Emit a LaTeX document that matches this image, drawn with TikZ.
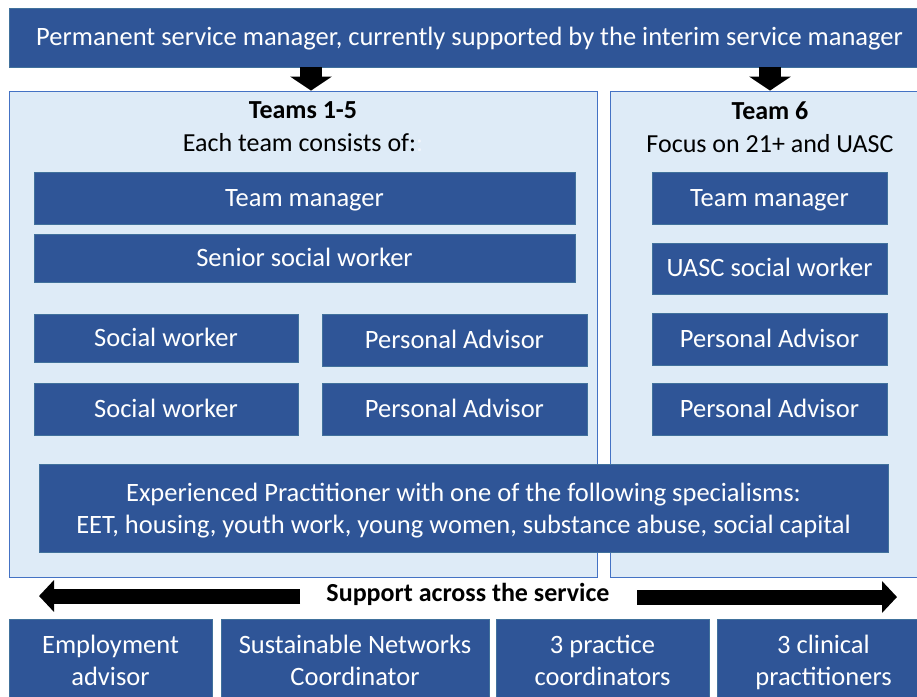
\documentclass[tikz,border=0pt]{standalone}
\usepackage{fontspec}
\setmainfont{Carlito}
\usetikzlibrary{arrows.meta}
\definecolor{darkblue}{HTML}{2F5597}
\definecolor{boxedge}{HTML}{41719C}
\definecolor{panelfill}{HTML}{DEEBF7}
\definecolor{paneledge}{HTML}{4472C4}
\definecolor{faint}{HTML}{F2F6FC}
% rectangle node given by its corners: style, name, x1, y1, x2, y2, text
\newcommand\blk[7]{\node[#1, minimum width={#5-#3}, minimum height={#6-#4}] (#2) at ({(#3+#5)/2},{(#4+#6)/2}) {#7};}
% two-line box: the box, then its text set a little below the centre
\newcommand\twoblk[7][3.5pt]{\blk{bluebox}{#2}{#3}{#4}{#5}{#6}{}
  \node[boxtext] (#2-text) at ([yshift=-#1]#2.center) {#7};}
\begin{document}
\begin{tikzpicture}[x=1pt,y=-1pt,
  boxtext/.style={text=white, font=\fontsize{26.5}{32}\selectfont,
    inner sep=0pt, align=center,
    execute at begin node={\rule{0pt}{24pt}},
    execute at end node={\rule[-2.5pt]{0pt}{2.5pt}}},
  bluebox/.style={boxtext, fill=darkblue, draw=boxedge, line width=0.8pt,
    execute at end node={\rule[-8pt]{0pt}{8pt}}},
  panel/.style={fill=panelfill, draw=paneledge, line width=0.8pt, inner sep=0pt},
  heading/.style={font=\fontsize{26}{33}\selectfont, align=center, inner sep=0pt},
  blockdown/.style={line width=22pt, -{Triangle[width=41pt,length=14pt]}},
  blockside/.style={line width=15pt, -{Triangle[width=31pt,length=15pt]}},
]
\useasboundingbox (0,0) rectangle (917,696);
\fill[white] (0,0) rectangle (917,696);

% manager bar
\blk{bluebox}{top}{9}{8}{930}{67}{Permanent service manager, currently supported by the interim service manager}

% team panels
\blk{panel}{left}{9}{91}{597}{577}{}
\blk{panel}{right}{610}{91}{930}{577}{}

% arrows from the manager bar into the panels
\draw[blockdown] (top.south -| 311,0) -- (left.north -| 311,0);
\draw[blockdown] (top.south -| 770,0) -- (right.north -| 770,0);

% panel headings
\node[heading] (h1) at (303,127) {\textbf{Teams 1-5}\\Each team consists of:\textcolor{faint}{:}};
\node[heading] (h2) at (770,127) {\textbf{Team 6}\\Focus on 21+ and UASC};

% teams 1-5
\blk{bluebox}{tm1}{34}{172}{575}{224}{Team manager}
\blk{bluebox}{ssw}{34}{234}{575}{282}{Senior social worker}
\blk{bluebox}{sw1}{34}{314}{298}{362}{Social worker}
\blk{bluebox}{pa1}{322}{314}{587}{366}{Personal Advisor}
\blk{bluebox}{sw2}{34}{383}{298}{435}{Social worker}
\blk{bluebox}{pa2}{322}{383}{587}{435}{Personal Advisor}

% team 6
\blk{bluebox}{tm6}{652}{172}{887}{224}{Team manager}
\blk{bluebox}{uasc}{652}{243}{887}{294}{UASC social worker}
\blk{bluebox}{pa3}{652}{313}{887}{365}{Personal Advisor}
\blk{bluebox}{pa4}{652}{383}{887}{435}{Personal Advisor}

% shared practitioner
\twoblk[2.5pt]{exp}{39}{464}{888}{552}{Experienced Practitioner with one of the following specialisms:\\EET, housing, youth work, young women, substance abuse, social capital}

% support across the service
\node[font=\fontsize{26}{28}\selectfont\bfseries, inner sep=0pt] (sup) at (468,594) {Support across the service};
\coordinate (lend) at (39,596);
\coordinate (rend) at (897,597);
\draw[blockside] (300,596) -- (lend);
\draw[blockside] (637,597) -- (rend);

% service-wide roles
\twoblk[1.5pt]{emp}{9}{619}{212}{702}{Employment\\advisor}
\twoblk[1.5pt]{snc}{221}{619}{489}{702}{Sustainable Networks\\Coordinator}
\twoblk[1.5pt]{ppc}{496}{619}{709}{702}{3 practice\\coordinators}
\twoblk[1.5pt]{clin}{717}{619}{930}{702}{3 clinical\\practitioners}
\end{tikzpicture}
\end{document}
